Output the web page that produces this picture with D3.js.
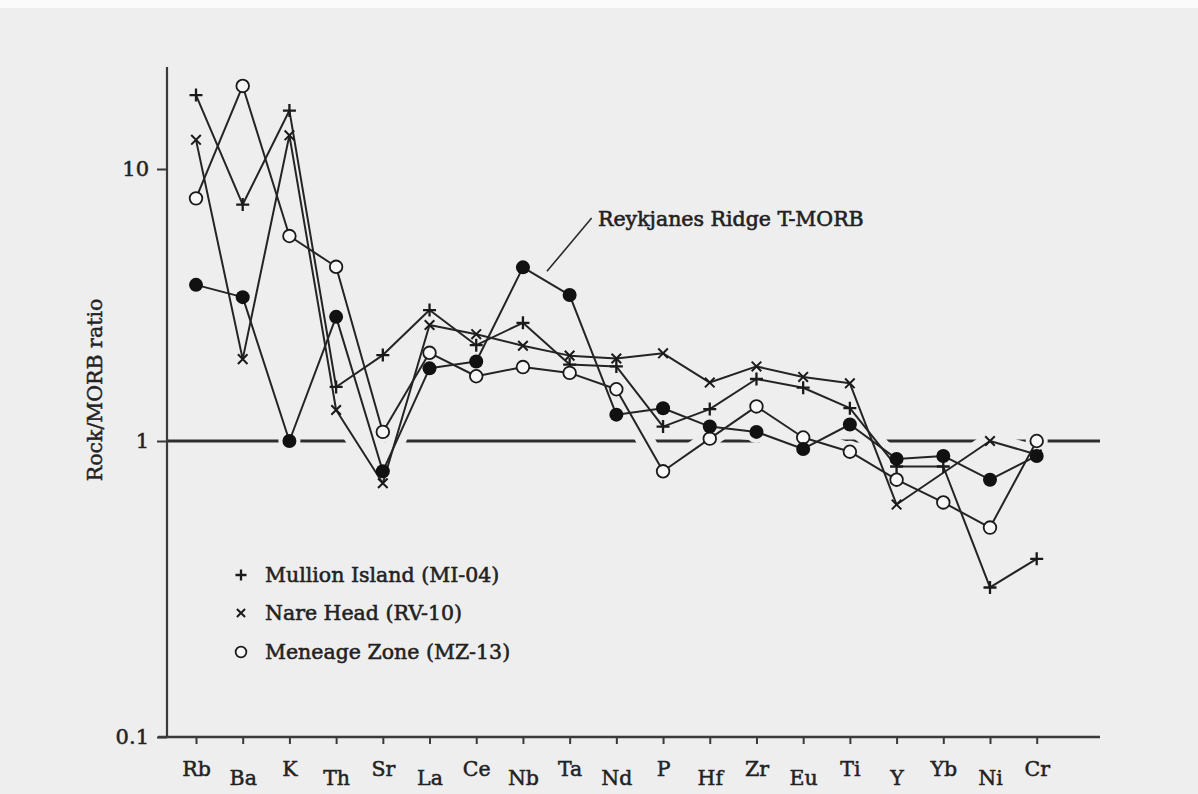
<!DOCTYPE html>
<html>
<head>
<meta charset="utf-8">
<script src="https://cdn.jsdelivr.net/npm/d3@7"></script>
<style>
  html, body { margin: 0; padding: 0; background: #fbfbfb; }
  svg { display: block; }
</style>
</head>
<body>
<svg id="chart" width="1198" height="794"></svg>
<script>
// ---------------- data ----------------
const categories = ["Rb","Ba","K","Th","Sr","La","Ce","Nb","Ta","Nd","P","Hf","Zr","Eu","Ti","Y","Yb","Ni","Cr"];
const mullion   = [18.7, 7.4, 16.4, 1.58, 2.07, 3.03, 2.25, 2.72, 1.91, 1.88, 1.13, 1.31, 1.69, 1.57, 1.32, 0.82, 0.82, 0.32, 0.40];
const nare      = [12.8, 2.0, 13.3, 1.30, 0.72, 2.67, 2.47, 2.24, 2.06, 2.01, 2.10, 1.64, 1.88, 1.72, 1.63, 0.61, null, 1.00, 0.90];
const meneage   = [7.8, 20.2, 5.67, 4.37, 1.08, 2.11, 1.73, 1.87, 1.78, 1.55, 0.79, 1.02, 1.34, 1.03, 0.92, 0.74, 0.62, 0.51, 1.00];
const reykjanes = [3.75, 3.38, 1.00, 2.86, 0.79, 1.85, 1.96, 4.35, 3.44, 1.25, 1.32, 1.13, 1.08, 0.94, 1.15, 0.87, 0.89, 0.74, 0.89];
const yTickValues = [0.1, 1, 10];
const yTickLabels = ["0.1", "1", "10"];
const yTop = 23.7;
const legendLabels = ["Mullion Island (MI-04)", "Nare Head (RV-10)", "Meneage Zone (MZ-13)"];
const annotation = "Reykjanes Ridge T-MORB";
const yTitle = "Rock/MORB ratio";

// ---------------- layout ----------------
const svg = d3.select("#chart");
const W = 1198, H = 794;
const ink = "#222";
const paper = "#eeeeee";
const font = "'DejaVu Serif', serif";

svg.append("rect").attr("x", 0).attr("y", 8).attr("width", W).attr("height", H - 8).attr("fill", paper);

const x = d3.scalePoint().domain(categories).range([196, 1036.7]);
const y = d3.scaleLog().domain([0.1, 1, 10]).range([737, 441, 169]);
const axisX = 167, plotRight = 1100;

const series = [
  {name: "mullion", values: mullion, sym: "plus"},
  {name: "nare", values: nare, sym: "cross"},
  {name: "meneage", values: meneage, sym: "open"},
  {name: "reykjanes", values: reykjanes, sym: "dot"}
];
series.forEach(s => {
  s.pts = categories.map((c, i) => ({c, v: s.values[i]})).filter(d => d.v != null);
});
const line = d3.line().x(d => x(d.c)).y(d => y(d.v));

function thickText(sel, size, sw) {
  return sel.attr("font-family", font).attr("font-size", size).attr("fill", ink)
    .attr("stroke", ink).attr("stroke-width", sw).attr("paint-order", "stroke");
}

// reference line at ratio = 1
svg.append("line")
  .attr("x1", axisX).attr("x2", plotRight)
  .attr("y1", y(1)).attr("y2", y(1))
  .attr("stroke", "#2e2e2e").attr("stroke-width", 3);

// paper-coloured halos that break the reference line where the series cross it
const defs = svg.append("defs");
defs.append("clipPath").attr("id", "refband")
  .append("rect").attr("x", axisX + 2).attr("y", y(1) - 3).attr("width", plotRight - axisX).attr("height", 6);
const halo = svg.append("g").attr("clip-path", "url(#refband)");
series.forEach(s => {
  halo.append("path").attr("d", line(s.pts)).attr("fill", "none")
    .attr("stroke", paper).attr("stroke-width", 18).attr("stroke-linejoin", "round");
  halo.selectAll(null).data(s.pts).join("circle")
    .attr("cx", d => x(d.c)).attr("cy", d => y(d.v)).attr("r", 11).attr("fill", paper);
});

// y axis
const yAxis = d3.axisLeft(y).tickValues(yTickValues).tickSize(10).tickPadding(8)
  .tickFormat((d, i) => yTickLabels[i]);
const gy = svg.append("g").attr("transform", `translate(${axisX},0)`).call(yAxis);
gy.select(".domain").remove();
gy.append("line").attr("x1", 0).attr("x2", 0).attr("y1", y(yTop)).attr("y2", y(0.1))
  .attr("stroke", "#3a3a3a").attr("stroke-width", 2.2);
gy.selectAll(".tick line").attr("stroke", "#3a3a3a").attr("stroke-width", 2);
thickText(gy.selectAll(".tick text"), 21, 0.5);

// x axis
const xAxis = d3.axisBottom(x).tickSize(7).tickPadding(10);
const gx = svg.append("g").attr("transform", `translate(0,${y(0.1)})`).call(xAxis);
gx.select(".domain").remove();
gx.append("line").attr("x1", axisX - 9).attr("x2", plotRight).attr("y1", 0).attr("y2", 0)
  .attr("stroke", "#3a3a3a").attr("stroke-width", 2.5);
gx.selectAll(".tick line").attr("stroke", "#3a3a3a").attr("stroke-width", 2);
thickText(gx.selectAll(".tick text"), 20.5, 0.5)
  .attr("dy", (d, i) => i % 2 === 0 ? "1.05em" : "1.5em");

// y title
thickText(svg.append("text"), 20.5, 0.45)
  .attr("transform", `translate(102,${390}) rotate(-90)`)
  .attr("text-anchor", "middle")
  .text(yTitle);

// series lines
series.forEach(s => {
  svg.append("path").attr("d", line(s.pts)).attr("fill", "none")
    .attr("stroke", "#242424").attr("stroke-width", 2).attr("stroke-linejoin", "round");
});

// markers
function drawMarker(g, sym, cx, cy, scale = 1) {
  if (sym === "plus") {
    const a = 6.5 * scale;
    g.append("path").attr("d", `M${cx - a},${cy}H${cx + a}M${cx},${cy - a}V${cy + a}`)
      .attr("stroke", "#1a1a1a").attr("stroke-width", 2.3).attr("fill", "none");
  } else if (sym === "cross") {
    const a = 4.8 * scale;
    g.append("path").attr("d", `M${cx - a},${cy - a}L${cx + a},${cy + a}M${cx - a},${cy + a}L${cx + a},${cy - a}`)
      .attr("stroke", "#1a1a1a").attr("stroke-width", 2).attr("fill", "none");
  } else if (sym === "open") {
    g.append("circle").attr("cx", cx).attr("cy", cy).attr("r", 6.3 * scale)
      .attr("fill", "#f7f7f7").attr("stroke", "#1a1a1a").attr("stroke-width", 1.8);
  } else {
    g.append("circle").attr("cx", cx).attr("cy", cy).attr("r", 7 * scale).attr("fill", "#111");
  }
}
const gm = svg.append("g");
series.forEach(s => {
  s.pts.forEach(d => drawMarker(gm, s.sym, x(d.c), y(d.v)));
});

// annotation
svg.append("line").attr("x1", x("Nb") + 24).attr("y1", y(4.35) + 4)
  .attr("x2", x("Ta") + 22).attr("y2", 218)
  .attr("stroke", "#2a2a2a").attr("stroke-width", 1.6);
thickText(svg.append("text"), 20.5, 0.6)
  .attr("x", 598).attr("y", 226)
  .text(annotation);

// legend
const lg = svg.append("g");
const legendSyms = ["plus", "cross", "open"];
const legendY = [575, 613, 652];
legendLabels.forEach((lab, i) => {
  drawMarker(lg, legendSyms[i], 241, legendY[i], 0.85);
  thickText(lg.append("text"), 20.5, 0.55)
    .attr("x", 265).attr("y", legendY[i]).attr("dy", "0.35em")
    .text(lab);
});
</script>
</body>
</html>
